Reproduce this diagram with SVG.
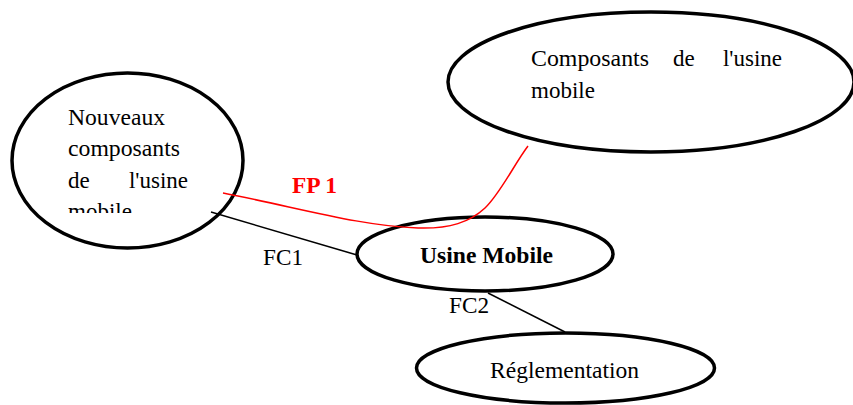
<svg xmlns="http://www.w3.org/2000/svg" width="853" height="405" viewBox="0 0 853 405">
<style>
.node ellipse{fill:#fff;stroke:#000;stroke-width:3.5}
text{font-family:"Liberation Serif","Times New Roman",serif;font-size:23px;fill:#000}
.b{font-weight:bold}
.conn line{stroke:#000;stroke-width:1.5}
.fp{fill:none;stroke:#f00;stroke-width:1.5}
</style>
<defs>
<clipPath id="clipL"><rect x="0" y="0" width="300" height="213"/></clipPath>
</defs>
<rect width="853" height="405" fill="#fff"/>
<g id="node-nouveaux" class="node">
<ellipse cx="127.5" cy="160.5" rx="115.5" ry="87.5"/>
<g clip-path="url(#clipL)">
<text x="68" y="125" textLength="97" lengthAdjust="spacingAndGlyphs">Nouveaux</text>
<text x="68" y="156" textLength="112" lengthAdjust="spacingAndGlyphs">composants</text>
<text x="68" y="188">de</text>
<text x="188" y="188" text-anchor="end">l'usine</text>
<text x="68" y="219">mobile</text>
</g>
</g>
<g id="node-composants" class="node">
<ellipse cx="651" cy="82" rx="203" ry="70"/>
<text x="531" y="66" textLength="118" lengthAdjust="spacingAndGlyphs">Composants</text>
<text x="673" y="66">de</text>
<text x="782" y="66" text-anchor="end">l'usine</text>
<text x="531" y="98">mobile</text>
</g>
<g id="node-usine" class="node">
<ellipse cx="485" cy="254" rx="128" ry="37"/>
<text x="420" y="263" class="b" textLength="133" lengthAdjust="spacingAndGlyphs">Usine Mobile</text>
</g>
<g id="node-reglementation" class="node">
<ellipse cx="565.5" cy="368" rx="149" ry="35"/>
<text x="490" y="378" textLength="149" lengthAdjust="spacingAndGlyphs">Réglementation</text>
</g>
<g id="connectors" class="conn">
<line x1="211" y1="212" x2="357" y2="255"/>
<line x1="488" y1="293" x2="565" y2="332"/>
<path class="fp" d="M223,193 C300,208 360,226 418,228 C450,229 470,222 485,208 C500,194 515,163 528,146"/>
<text x="292" y="193" class="b" style="fill:#f00" textLength="45" lengthAdjust="spacingAndGlyphs">FP 1</text>
<text x="263" y="265" textLength="40" lengthAdjust="spacingAndGlyphs">FC1</text>
<text x="449" y="313" textLength="40" lengthAdjust="spacingAndGlyphs">FC2</text>
</g>
</svg>
